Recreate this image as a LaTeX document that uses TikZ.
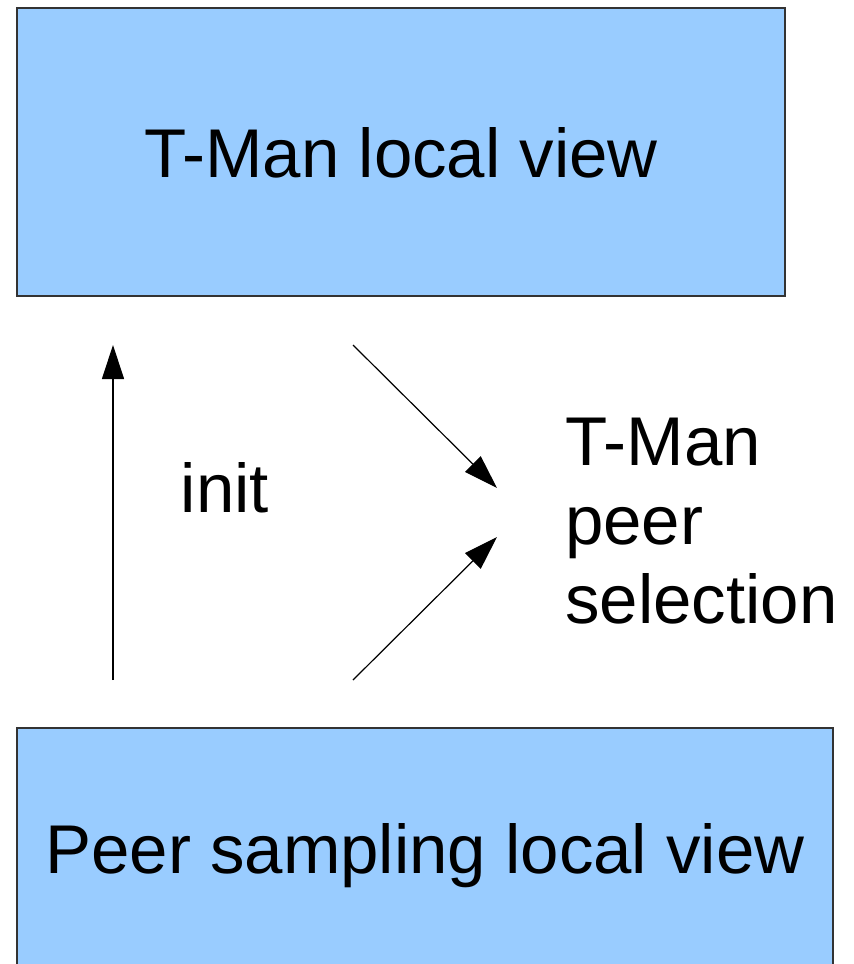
\documentclass[tikz,border=0pt]{standalone}
\usepackage{fontspec}
\setmainfont{Liberation Sans}
\usetikzlibrary{arrows.meta}
\definecolor{boxblue}{HTML}{99CCFF}
\definecolor{boxline}{HTML}{333333}
\tikzset{
  viewbox/.style={draw=boxline, line width=1.2pt, fill=boxblue, inner sep=0pt,
    text depth=0pt, font=\fontsize{69}{79}\selectfont},
  flow/.style={line width=1.2pt, -{Triangle[length=34pt, width=22pt]}},
  label/.style={inner sep=0pt, font=\fontsize{69}{79}\selectfont}
}
\begin{document}
\begin{tikzpicture}[x=1pt, y=-1pt]
  \useasboundingbox (0,0) rectangle (854,964);
  \clip (0,0) rectangle (854,964);
  % local views
  \node[viewbox, minimum width=768pt, minimum height=288pt] (tman) at (401,152) {T-Man local view};
  \node[viewbox, minimum width=816pt, minimum height=240pt] (peers) at (425,848) {Peer sampling local view};
  % labels
  \node[label, anchor=base] (init) at (225,512) {init};
  \node[label, anchor=north west, align=left] (sel) at (565,418) {T-Man\\peer\\selection};
  % arrow end points
  \coordinate (initfrom) at (113,680);
  \coordinate (initto) at (113,345);
  \coordinate (viewfrom) at (353,345);
  \coordinate (viewto) at (497,488);
  \coordinate (sampfrom) at (353,680);
  \coordinate (sampto) at (497,537);
  % arrows
  \draw[flow] (initfrom) -- (initto);
  \draw[flow] (viewfrom) -- (viewto);
  \draw[flow] (sampfrom) -- (sampto);
\end{tikzpicture}
\end{document}
